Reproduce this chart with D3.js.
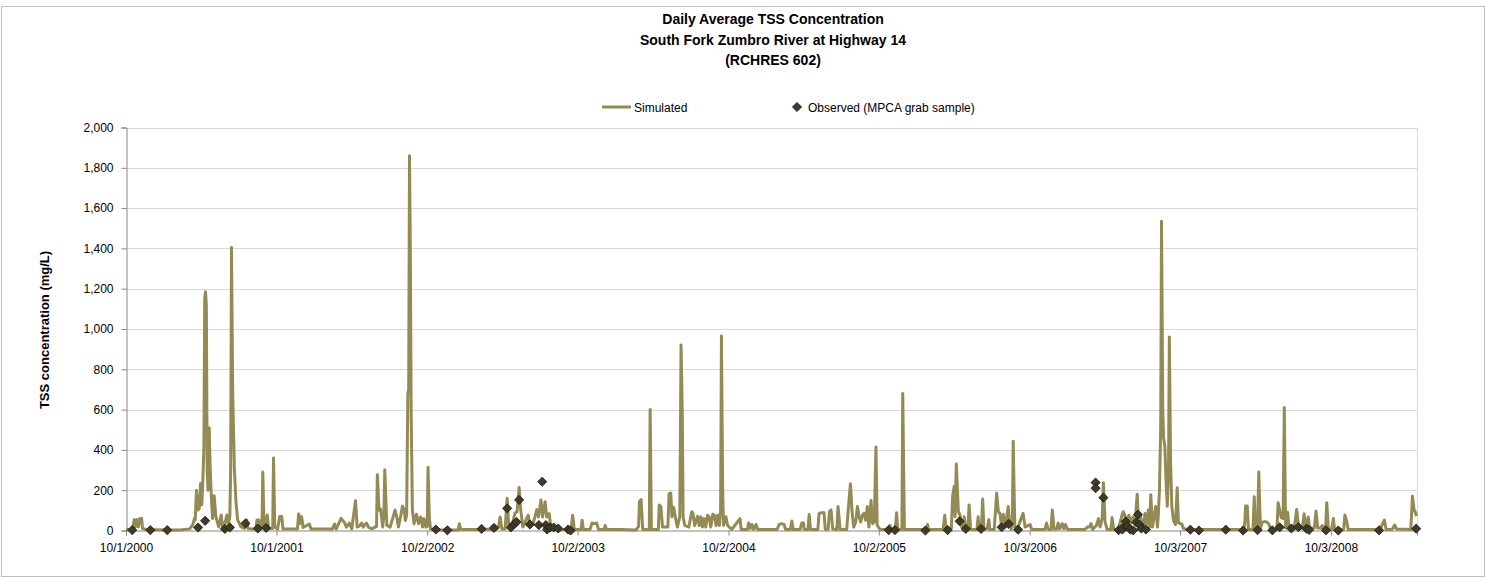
<!DOCTYPE html>
<html><head><meta charset="utf-8">
<script src="https://cdn.jsdelivr.net/npm/d3@7/dist/d3.min.js"></script>
<style>body{margin:0;background:#fff}svg{display:block;font-family:"Liberation Sans",Arial,sans-serif}</style>
</head><body><svg id="c" width="1486" height="578"></svg>
<script>
const titleLines = ["Daily Average TSS Concentration", "South Fork Zumbro River at Highway 14", "(RCHRES 602)"];
const seriesNames = ["Simulated", "Observed (MPCA grab sample)"];
const yAxisTitle = "TSS concentration (mg/L)";
const yTicks = [0, 200, 400, 600, 800, 1000, 1200, 1400, 1600, 1800, 2000];
const xDomain = ["2000-10-01", "2009-04-30"];
const xTickDates = ["2000-10-01", "2001-10-01", "2002-10-02", "2003-10-02", "2004-10-02", "2005-10-02", "2006-10-03", "2007-10-03", "2008-10-03"];

// Simulated daily average TSS (mg/L), vertices
const simulated = [
["2000-10-01",5],["2000-10-17",5],["2000-10-21",55],["2000-10-24",18],["2000-10-28",55],["2000-10-31",18],["2000-11-04",60],["2000-11-08",60],["2000-11-10",10],["2000-11-19",5],["2000-12-10",4],["2001-01-09",3],["2001-02-08",3],["2001-03-04",7],["2001-03-08",18],["2001-03-12",27],["2001-03-16",60],["2001-03-18",52],["2001-03-21",198],["2001-03-25",102],["2001-03-28",111],["2001-03-31",233],["2001-04-03",128],["2001-04-05",220],["2001-04-08",405],["2001-04-10",1150],["2001-04-12",1185],["2001-04-14",1120],["2001-04-16",300],["2001-04-18",200],["2001-04-21",510],["2001-04-23",330],["2001-04-26",170],["2001-04-29",60],["2001-05-03",173],["2001-05-07",69],["2001-05-14",18],["2001-05-20",77],["2001-05-23",18],["2001-05-30",44],["2001-06-03",77],["2001-06-06",27],["2001-06-10",69],["2001-06-12",300],["2001-06-14",1405],["2001-06-17",674],["2001-06-21",304],["2001-06-25",136],["2001-06-29",52],["2001-07-07",18],["2001-07-15",10],["2001-07-21",52],["2001-07-24",10],["2001-07-31",7],["2001-08-12",7],["2001-08-15",52],["2001-08-20",52],["2001-08-24",15],["2001-08-27",15],["2001-08-29",290],["2001-09-01",18],["2001-09-06",55],["2001-09-09",77],["2001-09-12",10],["2001-09-22",10],["2001-09-24",360],["2001-09-27",18],
["2001-10-04",7],["2001-10-09",69],["2001-10-14",69],["2001-10-17",7],["2001-11-21",7],["2001-11-24",82],["2001-11-27",35],["2001-12-01",69],["2001-12-05",15],["2001-12-20",32],["2001-12-24",7],["2002-02-14",7],["2002-02-19",32],["2002-02-23",7],["2002-03-07",60],["2002-03-15",40],["2002-03-20",17],["2002-03-27",37],["2002-04-02",8],["2002-04-11",148],["2002-04-15",17],["2002-04-22",25],["2002-04-26",37],["2002-04-30",17],["2002-05-04",30],["2002-05-08",37],["2002-05-12",17],["2002-05-20",8],["2002-06-01",20],["2002-06-03",277],["2002-06-07",101],["2002-06-11",106],["2002-06-16",17],["2002-06-19",80],["2002-06-21",302],["2002-06-26",25],["2002-07-04",17],["2002-07-16",101],["2002-07-20",67],["2002-07-24",17],["2002-07-30",76],["2002-08-03",121],["2002-08-07",101],["2002-08-10",50],["2002-08-13",76],["2002-08-16",680],["2002-08-18",700],["2002-08-20",1860],["2002-08-22",1400],["2002-08-24",588],["2002-08-27",101],["2002-08-31",34],["2002-09-06",81],["2002-09-11",34],["2002-09-16",67],["2002-09-21",17],["2002-09-24",59],["2002-09-29",17],
["2002-10-02",20],["2002-10-04",314],["2002-10-07",67],["2002-10-10",8],["2002-10-25",3],["2002-12-16",3],["2002-12-19",34],["2002-12-22",5],["2003-02-07",5],["2003-03-20",8],["2003-03-24",17],["2003-03-28",67],["2003-04-01",8],["2003-04-09",8],["2003-04-14",160],["2003-04-18",17],["2003-04-25",17],["2003-05-03",87],["2003-05-08",92],["2003-05-13",213],["2003-05-17",101],["2003-05-22",17],["2003-06-04",76],["2003-06-08",34],["2003-06-16",34],["2003-06-25",104],["2003-06-29",67],["2003-07-05",151],["2003-07-09",67],["2003-07-15",143],["2003-07-19",67],["2003-07-25",84],["2003-07-29",17],["2003-08-07",17],["2003-08-12",5],["2003-09-16",5],["2003-09-20",76],["2003-09-24",5],
["2003-10-10",5],["2003-10-13",51],["2003-10-16",5],["2003-11-01",5],["2003-11-06",37],["2003-11-11",34],["2003-11-17",37],["2003-11-22",5],["2003-12-05",5],["2003-12-08",25],["2003-12-11",5],["2004-01-14",5],["2004-02-21",3],["2004-02-27",20],["2004-02-29",144],["2004-03-04",153],["2004-03-08",5],["2004-03-24",5],["2004-03-26",600],["2004-03-29",5],["2004-04-15",5],["2004-04-17",127],["2004-04-21",119],["2004-04-25",17],["2004-05-08",17],["2004-05-11",183],["2004-05-15",186],["2004-05-18",68],["2004-05-22",115],["2004-05-26",68],["2004-05-31",17],["2004-06-06",68],["2004-06-09",920],["2004-06-12",576],["2004-06-14",68],["2004-06-18",25],["2004-06-28",17],["2004-07-05",93],["2004-07-08",85],["2004-07-12",25],["2004-07-19",71],["2004-07-23",25],["2004-07-27",68],["2004-07-31",17],["2004-08-04",59],["2004-08-08",17],["2004-08-12",76],["2004-08-16",68],["2004-08-20",17],["2004-08-25",81],["2004-08-29",76],["2004-09-02",25],["2004-09-06",76],["2004-09-10",25],["2004-09-13",100],["2004-09-15",965],["2004-09-18",200],["2004-09-20",25],["2004-09-26",68],["2004-09-30",25],
["2004-10-10",5],["2004-10-30",59],["2004-11-02",5],["2004-11-17",5],["2004-11-20",37],["2004-11-24",10],["2004-11-28",30],["2004-12-02",5],["2004-12-08",30],["2004-12-12",5],["2005-01-20",5],["2005-01-28",5],["2005-02-02",30],["2005-02-08",34],["2005-02-14",30],["2005-02-18",5],["2005-03-01",5],["2005-03-05",47],["2005-03-08",5],["2005-03-25",5],["2005-03-29",37],["2005-04-02",37],["2005-04-04",5],["2005-04-13",5],["2005-04-16",80],["2005-04-19",5],["2005-05-07",5],["2005-05-10",85],["2005-05-16",88],["2005-05-22",88],["2005-05-25",5],["2005-06-01",5],["2005-06-04",93],["2005-06-08",102],["2005-06-12",8],["2005-06-22",5],["2005-06-25",119],["2005-06-30",5],["2005-07-16",5],["2005-07-20",110],["2005-07-25",232],["2005-07-29",93],["2005-08-02",17],["2005-08-07",42],["2005-08-11",119],["2005-08-15",68],["2005-08-19",42],["2005-08-23",76],["2005-08-27",85],["2005-08-31",51],["2005-09-04",119],["2005-09-08",17],["2005-09-13",149],["2005-09-17",34],["2005-09-21",42],["2005-09-25",415],["2005-09-28",25],
["2005-10-05",5],["2005-10-21",5],["2005-10-29",25],["2005-11-02",5],["2005-11-11",5],["2005-11-14",88],["2005-11-17",5],["2005-11-27",5],["2005-11-29",680],["2005-12-03",5],["2006-01-26",5],["2006-01-28",30],["2006-01-31",5],["2006-03-07",5],["2006-03-11",76],["2006-03-14",10],["2006-03-27",10],["2006-03-30",170],["2006-04-03",220],["2006-04-05",68],["2006-04-08",330],["2006-04-13",93],["2006-04-17",76],["2006-04-21",17],["2006-04-24",17],["2006-04-27",68],["2006-05-01",5],["2006-05-06",5],["2006-05-09",127],["2006-05-13",5],["2006-05-28",5],["2006-05-31",68],["2006-06-03",5],["2006-06-08",8],["2006-06-11",156],["2006-06-14",5],["2006-06-22",10],["2006-06-26",54],["2006-06-28",5],["2006-07-09",5],["2006-07-15",186],["2006-07-19",93],["2006-07-23",85],["2006-07-27",17],["2006-07-31",81],["2006-08-05",17],["2006-08-12",119],["2006-08-15",42],["2006-08-19",5],["2006-08-22",30],["2006-08-24",443],["2006-08-28",17],["2006-09-05",17],["2006-09-17",85],["2006-09-22",17],
["2006-10-04",30],["2006-10-08",5],["2006-11-09",5],["2006-11-13",37],["2006-11-17",5],["2006-11-24",5],["2006-11-27",102],["2006-12-01",8],["2006-12-08",8],["2006-12-11",37],["2006-12-15",8],["2006-12-21",34],["2006-12-25",8],["2006-12-29",30],["2007-01-03",5],["2007-02-14",5],["2007-02-20",17],["2007-02-25",17],["2007-03-01",34],["2007-03-05",5],["2007-03-14",25],["2007-03-19",59],["2007-03-23",17],["2007-03-28",59],["2007-03-31",237],["2007-04-04",42],["2007-04-09",5],["2007-04-18",5],["2007-04-21",64],["2007-04-25",5],["2007-05-06",5],["2007-05-14",68],["2007-05-18",93],["2007-05-22",76],["2007-05-26",34],["2007-06-01",76],["2007-06-05",34],["2007-06-11",68],["2007-06-16",42],["2007-06-21",180],["2007-06-24",42],["2007-06-28",76],["2007-07-02",42],["2007-07-06",17],["2007-07-10",85],["2007-07-14",34],["2007-07-18",102],["2007-07-21",17],["2007-07-24",178],["2007-07-28",17],["2007-08-01",68],["2007-08-05",119],["2007-08-09",17],["2007-08-11",68],["2007-08-14",203],["2007-08-17",508],["2007-08-19",1535],["2007-08-22",600],["2007-08-24",460],["2007-08-27",420],["2007-08-30",250],["2007-09-02",120],["2007-09-05",300],["2007-09-07",960],["2007-09-10",339],["2007-09-13",120],["2007-09-17",50],["2007-09-22",30],["2007-09-26",212],["2007-09-29",40],
["2007-10-03",34],["2007-10-07",34],["2007-10-11",10],["2007-10-19",5],["2007-12-02",5],["2008-01-24",5],["2008-03-04",5],["2008-03-08",30],["2008-03-10",122],["2008-03-14",122],["2008-03-17",5],["2008-03-28",5],["2008-03-31",167],["2008-04-03",10],["2008-04-08",10],["2008-04-11",290],["2008-04-15",12],["2008-04-19",38],["2008-04-23",43],["2008-04-30",43],["2008-05-06",30],["2008-05-10",5],["2008-05-25",5],["2008-05-28",138],["2008-06-01",97],["2008-06-05",63],["2008-06-09",60],["2008-06-12",610],["2008-06-15",12],["2008-06-20",91],["2008-06-23",20],["2008-07-01",20],["2008-07-07",25],["2008-07-12",105],["2008-07-16",30],["2008-07-20",12],["2008-07-26",12],["2008-07-30",83],["2008-08-03",12],["2008-08-09",67],["2008-08-12",20],["2008-08-16",12],["2008-08-24",12],["2008-08-28",97],["2008-09-01",12],["2008-09-08",12],["2008-09-12",25],["2008-09-16",5],["2008-09-20",5],["2008-09-23",138],["2008-09-27",8],
["2008-10-05",5],["2008-10-09",60],["2008-10-12",5],["2008-11-03",5],["2008-11-06",77],["2008-11-10",50],["2008-11-14",5],["2009-01-30",5],["2009-02-10",52],["2009-02-14",5],["2009-02-28",5],["2009-03-03",13],["2009-03-07",27],["2009-03-11",8],["2009-04-15",5],["2009-04-19",170],["2009-04-23",100],["2009-04-25",97],["2009-04-29",72]
];

// Observed MPCA grab samples (mg/L)
const observed = [
["2000-10-16",2],["2000-11-29",2],["2001-01-09",2],["2001-03-25",15],["2001-04-11",48],["2001-05-29",8],["2001-06-10",15],["2001-07-18",35],["2001-08-17",10],["2001-09-06",13],
["2002-10-23",5],["2002-11-20",1],["2003-02-11",8],["2003-03-13",13],["2003-04-14",110],["2003-04-23",15],["2003-05-01",32],["2003-05-07",42],["2003-05-13",152],["2003-06-08",30],["2003-06-30",27],["2003-07-08",242],["2003-07-17",27],["2003-07-20",5],["2003-07-27",15],["2003-08-05",15],["2003-08-16",10],["2003-09-09",5],["2003-09-15",0],
["2005-10-26",2],["2005-11-10",2],["2006-01-23",0],["2006-03-18",2],["2006-04-16",46],["2006-05-01",8],["2006-06-07",8],["2006-07-27",16],["2006-08-13",33],["2006-09-05",4],
["2007-03-12",238],["2007-03-12",210],["2007-03-31",163],["2007-05-07",2],["2007-05-16",5],["2007-05-22",25],["2007-05-24",45],["2007-05-28",20],["2007-06-04",5],["2007-06-11",1],["2007-06-19",40],["2007-06-23",79],["2007-06-27",28],["2007-07-01",10],["2007-07-12",5],
["2007-10-28",4],["2007-11-18",0],["2008-01-22",4],["2008-03-04",0],["2008-04-08",2],["2008-05-14",1],["2008-06-01",16],["2008-06-29",10],["2008-07-16",17],["2008-08-05",9],["2008-08-11",3],["2008-09-21",1],
["2008-10-21",0],["2009-01-28",1],["2009-04-28",9]
];

const parse = d3.timeParse("%Y-%m-%d");
const svg = d3.select("#c");
const W = 1486, H = 578;
const m = {left: 126, right: 1417, top: 127.5, bottom: 530.5};

svg.append("rect").attr("x", 1.5).attr("y", 6.5).attr("width", W - 3).attr("height", H - 8)
  .attr("fill", "#fff").attr("stroke", "#bfbfbf").attr("stroke-width", 1);

const x = d3.scaleTime().domain(xDomain.map(parse)).range([m.left, m.right]);
const y = d3.scaleLinear().domain([0, 2000]).range([m.bottom, m.top]);

// gridlines
svg.append("g").selectAll("line").data(yTicks.slice(1)).join("line")
  .attr("x1", m.left).attr("x2", m.right)
  .attr("y1", d => Math.round(y(d)) + 0.5).attr("y2", d => Math.round(y(d)) + 0.5)
  .attr("stroke", "#d9d9d9").attr("stroke-width", 1);
svg.append("line").attr("x1", m.right + 0.5).attr("x2", m.right + 0.5)
  .attr("y1", y(2000)).attr("y2", m.bottom).attr("stroke", "#d9d9d9");

// y axis
const yAxis = svg.append("g").attr("transform", `translate(${m.left + 0.5},0)`)
  .call(d3.axisLeft(y).tickValues(yTicks).tickSize(5).tickPadding(8).tickFormat(d3.format(",")));
yAxis.select(".domain").attr("stroke", "#868686");
yAxis.selectAll(".tick line").attr("stroke", "#868686");
yAxis.selectAll("text").attr("font-size", 12).attr("fill", "#000").attr("font-family", "Liberation Sans, Arial, sans-serif");

// x axis
const fmt = d => `${d.getMonth() + 1}/${d.getDate()}/${d.getFullYear()}`;
const xAxis = svg.append("g").attr("transform", `translate(0,${m.bottom})`)
  .call(d3.axisBottom(x).tickValues(xTickDates.map(parse)).tickSize(5).tickPadding(8).tickFormat(fmt));
xAxis.select(".domain").attr("stroke", "#868686");
xAxis.selectAll(".tick line").attr("stroke", "#868686");
xAxis.selectAll("text").attr("font-size", 12).attr("fill", "#000").attr("font-family", "Liberation Sans, Arial, sans-serif");

// simulated line
const line = d3.line().x(d => x(parse(d[0]))).y(d => y(d[1]));
svg.append("path").datum(simulated).attr("d", line)
  .attr("fill", "none").attr("stroke", "#948a54").attr("stroke-width", 3).attr("stroke-linejoin", "round");

// observed markers
const diamond = d3.symbol().type(d3.symbolSquare).size(42);
svg.append("g").selectAll("path").data(observed).join("path")
  .attr("d", diamond)
  .attr("transform", d => `translate(${x(parse(d[0]))},${y(d[1])}) rotate(45)`)
  .attr("fill", "#3f3b26").attr("stroke", "#1e1e16").attr("stroke-width", 0.8);

// title
svg.append("g").selectAll("text").data(titleLines).join("text")
  .attr("x", 773).attr("y", (d, i) => 24 + i * 20.5)
  .attr("text-anchor", "middle").attr("font-size", 14).attr("font-weight", "bold")
  .text(d => d);

// legend
const lg = svg.append("g");
lg.append("line").attr("x1", 602).attr("x2", 631).attr("y1", 107).attr("y2", 107)
  .attr("stroke", "#948a54").attr("stroke-width", 3);
lg.append("text").attr("x", 634).attr("y", 111.5).attr("font-size", 12).text(seriesNames[0]);
lg.append("path").attr("d", diamond).attr("transform", "translate(797,107) rotate(45)")
  .attr("fill", "#3f3b26").attr("stroke", "#1e1e16").attr("stroke-width", 0.8);
lg.append("text").attr("x", 808).attr("y", 111.5).attr("font-size", 12).text(seriesNames[1]);

// y axis title
svg.append("text").attr("transform", "translate(49,330) rotate(-90)")
  .attr("text-anchor", "middle").attr("font-size", 13).attr("font-weight", "bold").text(yAxisTitle);
</script>
</body></html>
